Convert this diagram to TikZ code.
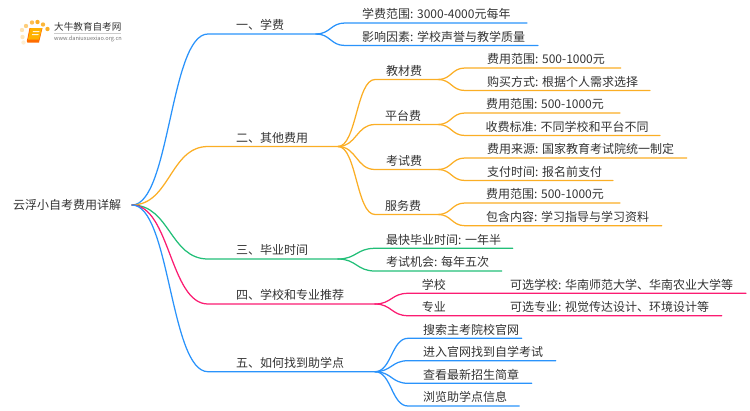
\documentclass[tikz,border=0pt]{standalone}
\usepackage{fontspec}
\setmainfont{Noto Sans CJK SC}
\usetikzlibrary{calc}
\definecolor{cblue}{HTML}{2A93FB}
\definecolor{corange}{HTML}{FBAE25}
\definecolor{cgreen}{HTML}{22BF78}
\definecolor{cpink}{HTML}{FB1C72}
\definecolor{ctext}{HTML}{333333}
\tikzset{
  lbl/.style={inner sep=0pt,anchor=base west,text=ctext,font=\fontsize{12}{14}\selectfont},
  conn/.style={line width=1.25pt,line cap=round,line join=round},
}
% name, parent, bend x, y, end x, colour, text x, text
\newcommand\kid[8]{%
  \coordinate (#1-b) at (#3,#4);
  \coordinate (#1) at (#5,#4);
  \node[lbl] (#1-t) at (#7,#4-4.2) {#8};
  \draw[conn,#6] let \p1=(#2),\p2=(#1-b),\n1={0.5*\x1+0.5*\x2} in
    (\p1) .. controls (\n1,\y1) and (\n1,\y2) .. (\p2) -- (#1);
}
\begin{document}
\begin{tikzpicture}[x=1pt,y=-1pt]
\useasboundingbox (0,0) rectangle (750,410);
% logo
\foreach \px/\py/\o in {22/30/.35,26/26/.6,32/22.5/.8,37.5/22/1,43/24.5/.9,47.5/29/1,22.5/37/.3,23.5/42.5/.2}
  \fill[corange,opacity=\o] (\px,\py) circle (2.2pt);
\fill[orange!85!red] (29.5,28) -- (42.5,28) -- (39,42.5) -- (27.5,42.5) .. controls (26.5,42.5) and (26.5,40) .. (27.5,38) -- cycle;
\fill[orange!60!yellow] (30.5,28) -- (42,28) -- (39,39.5) -- (28,39.5) -- cycle;
\fill[white,opacity=.85] (33,31) -- (39.5,31) -- (39.2,32) -- (32.7,32) -- cycle
  (32.2,34) -- (38.7,34) -- (38.4,35) -- (31.9,35) -- cycle;
\node[inner sep=0pt,anchor=west,text=ctext,font=\fontsize{9.6}{11}\selectfont] (logot) at (54,27) {大牛教育自考网};
\draw[black!20,line width=.5pt] (54,33.5) -- (121,33.5);
\node[inner sep=0pt,anchor=west,text=black!55,font=\fontsize{5.6}{7}\selectfont] (logou) at (54,38.7) {www.daniuxuexiao.org.cn};
% root
\coordinate (root) at (132,205);
\node[lbl] (root-t) at (13,209.8) {云浮小自考费用详解};
% level 1
\kid{a}{root}{208}{34}{316}{cblue}{236}{一、学费}
\kid{b}{root}{208}{146.5}{338}{corange}{236}{二、其他费用}
\kid{c}{root}{208}{259}{338}{cgreen}{236}{三、毕业时间}
\kid{d}{root}{208}{304}{375}{cpink}{236}{四、学校和专业推荐}
\kid{e}{root}{208}{371.7}{375}{cblue}{236}{五、如何找到助学点}
% branch a
\kid{a1}{a}{345}{23}{527}{cblue}{362}{学费范围: 3000-4000元每年}
\kid{a2}{a}{345}{45.5}{538}{cblue}{362}{影响因素: 学校声誉与教学质量}
% branch b
\kid{b1}{b}{375}{79.5}{438}{corange}{386}{教材费}
\kid{b2}{b}{375}{124.5}{438}{corange}{385}{平台费}
\kid{b3}{b}{375}{169.5}{438}{corange}{386}{考试费}
\kid{b4}{b}{375}{214.5}{438}{corange}{385}{服务费}
\kid{b11}{b1}{465}{68}{620.7}{corange}{487}{费用范围: 500-1000元}
\kid{b12}{b1}{465}{90.5}{650}{corange}{487}{购买方式: 根据个人需求选择}
\kid{b21}{b2}{465}{113}{620}{corange}{486}{费用范围: 500-1000元}
\kid{b22}{b2}{465}{135.5}{660}{corange}{485.5}{收费标准: 不同学校和平台不同}
\kid{b31}{b3}{465}{158}{686.7}{corange}{487}{费用来源: 国家教育考试院统一制定}
\kid{b32}{b3}{465}{180.5}{613}{corange}{487}{支付时间: 报名前支付}
\kid{b41}{b4}{465}{203}{620}{corange}{486}{费用范围: 500-1000元}
\kid{b42}{b4}{465}{225.7}{661.7}{corange}{486}{包含内容: 学习指导与学习资料}
% branch c
\kid{c1}{c}{375}{248.3}{512.7}{cgreen}{386}{最快毕业时间: 一年半}
\kid{c2}{c}{375}{271}{501.7}{cgreen}{386}{考试机会: 每年五次}
% branch d
\kid{d1}{d}{408}{293.3}{746}{cpink}{421.7}{学校}
\kid{d2}{d}{408}{315.7}{721.7}{cpink}{421.7}{专业}
\node[lbl] (d1x) at (510,289.1) {可选学校: 华南师范大学、华南农业大学等};
\node[lbl] (d2x) at (510,311.5) {可选专业: 视觉传达设计、环境设计等};
% branch e
\kid{e1}{e}{408}{338.3}{521.7}{cblue}{423}{搜索主考院校官网}
\kid{e2}{e}{408}{360.7}{555.7}{cblue}{423}{进入官网找到自学考试}
\kid{e3}{e}{408}{383.3}{531.7}{cblue}{423}{查看最新招生简章}
\kid{e4}{e}{408}{406}{519.3}{cblue}{423}{浏览助学点信息}
\end{tikzpicture}
\end{document}
